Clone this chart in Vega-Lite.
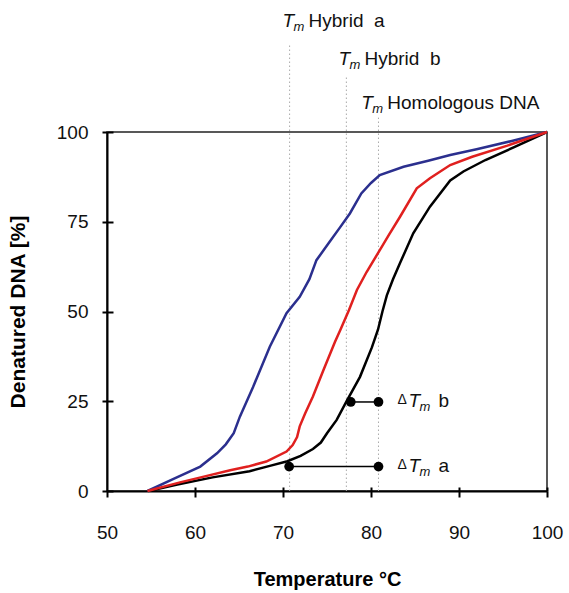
{
  "$schema": "https://vega.github.io/schema/vega-lite/v6.json",
  "autosize": {"type": "none"},
  "padding": {"left": 107, "top": 132, "right": 22, "bottom": 102},
  "width": 440,
  "height": 359,
  "background": "white",
  "config": {
    "view": {"stroke": "#222", "strokeWidth": 1.5},
    "font": "Liberation Sans",
    "axis": {"grid": false, "domainColor": "#000", "domainWidth": 2, "tickColor": "#000", "tickWidth": 2, "labelColor": "#111", "titleColor": "#000", "labelFont": "Liberation Sans", "titleFont": "Liberation Sans", "labelFlush": false}
  },
  "datasets": {
    "curves": [
      {"series": "Homologous", "temp": 54.7, "pct": 0}, {"series": "Homologous", "temp": 58, "pct": 1.8}, {"series": "Homologous", "temp": 62, "pct": 3.8}, {"series": "Homologous", "temp": 66.2, "pct": 5.5}, {"series": "Homologous", "temp": 68.5, "pct": 7}, {"series": "Homologous", "temp": 70.5, "pct": 8.3}, {"series": "Homologous", "temp": 72, "pct": 9.8}, {"series": "Homologous", "temp": 73.4, "pct": 11.7}, {"series": "Homologous", "temp": 74.3, "pct": 13.5}, {"series": "Homologous", "temp": 75, "pct": 16.1}, {"series": "Homologous", "temp": 76.1, "pct": 19.8}, {"series": "Homologous", "temp": 77.2, "pct": 24.9}, {"series": "Homologous", "temp": 78.75, "pct": 31.8}, {"series": "Homologous", "temp": 80.1, "pct": 40}, {"series": "Homologous", "temp": 80.8, "pct": 45}, {"series": "Homologous", "temp": 81.3, "pct": 50}, {"series": "Homologous", "temp": 81.8, "pct": 54.5}, {"series": "Homologous", "temp": 82.5, "pct": 59}, {"series": "Homologous", "temp": 83.3, "pct": 63.5}, {"series": "Homologous", "temp": 84.8, "pct": 71.8}, {"series": "Homologous", "temp": 86.7, "pct": 79.2}, {"series": "Homologous", "temp": 89, "pct": 86.5}, {"series": "Homologous", "temp": 90.5, "pct": 89}, {"series": "Homologous", "temp": 93, "pct": 92.2}, {"series": "Homologous", "temp": 96.4, "pct": 95.9}, {"series": "Homologous", "temp": 100, "pct": 100},
      {"series": "Hybrid a", "temp": 54.6, "pct": 0}, {"series": "Hybrid a", "temp": 57.5, "pct": 3.3}, {"series": "Hybrid a", "temp": 60.6, "pct": 6.8}, {"series": "Hybrid a", "temp": 62.5, "pct": 10.5}, {"series": "Hybrid a", "temp": 63.5, "pct": 13}, {"series": "Hybrid a", "temp": 64.4, "pct": 16.1}, {"series": "Hybrid a", "temp": 65.1, "pct": 20.7}, {"series": "Hybrid a", "temp": 66.6, "pct": 29}, {"series": "Hybrid a", "temp": 68.5, "pct": 40.2}, {"series": "Hybrid a", "temp": 70.4, "pct": 49.5}, {"series": "Hybrid a", "temp": 71.9, "pct": 54.1}, {"series": "Hybrid a", "temp": 73, "pct": 59}, {"series": "Hybrid a", "temp": 73.8, "pct": 64.3}, {"series": "Hybrid a", "temp": 75.3, "pct": 69.4}, {"series": "Hybrid a", "temp": 76.5, "pct": 73.5}, {"series": "Hybrid a", "temp": 77.6, "pct": 77.3}, {"series": "Hybrid a", "temp": 78.9, "pct": 82.9}, {"series": "Hybrid a", "temp": 80, "pct": 85.8}, {"series": "Hybrid a", "temp": 81, "pct": 88}, {"series": "Hybrid a", "temp": 83.7, "pct": 90.3}, {"series": "Hybrid a", "temp": 86.5, "pct": 92}, {"series": "Hybrid a", "temp": 89, "pct": 93.6}, {"series": "Hybrid a", "temp": 92, "pct": 95.2}, {"series": "Hybrid a", "temp": 96, "pct": 97.5}, {"series": "Hybrid a", "temp": 100, "pct": 100},
      {"series": "Hybrid b", "temp": 54.6, "pct": 0}, {"series": "Hybrid b", "temp": 58.3, "pct": 2.4}, {"series": "Hybrid b", "temp": 61, "pct": 4}, {"series": "Hybrid b", "temp": 64, "pct": 5.8}, {"series": "Hybrid b", "temp": 66, "pct": 6.8}, {"series": "Hybrid b", "temp": 68.1, "pct": 8.2}, {"series": "Hybrid b", "temp": 70.4, "pct": 11}, {"series": "Hybrid b", "temp": 71.1, "pct": 12.8}, {"series": "Hybrid b", "temp": 71.6, "pct": 15}, {"series": "Hybrid b", "temp": 71.9, "pct": 18}, {"series": "Hybrid b", "temp": 72.5, "pct": 21.5}, {"series": "Hybrid b", "temp": 73.4, "pct": 26.3}, {"series": "Hybrid b", "temp": 74.6, "pct": 33.7}, {"series": "Hybrid b", "temp": 75.9, "pct": 41.5}, {"series": "Hybrid b", "temp": 76.5, "pct": 44.8}, {"series": "Hybrid b", "temp": 77.5, "pct": 50.4}, {"series": "Hybrid b", "temp": 78.4, "pct": 56}, {"series": "Hybrid b", "temp": 79.5, "pct": 61}, {"series": "Hybrid b", "temp": 81, "pct": 67.1}, {"series": "Hybrid b", "temp": 82, "pct": 71.2}, {"series": "Hybrid b", "temp": 83.3, "pct": 76.4}, {"series": "Hybrid b", "temp": 85.2, "pct": 84.3}, {"series": "Hybrid b", "temp": 86.7, "pct": 87.1}, {"series": "Hybrid b", "temp": 89, "pct": 90.8}, {"series": "Hybrid b", "temp": 91.5, "pct": 93.1}, {"series": "Hybrid b", "temp": 95.5, "pct": 96.2}, {"series": "Hybrid b", "temp": 100, "pct": 100}
    ],
    "tmLines": [
      {"name": "Hybrid a", "tm": 70.75, "base": 0, "top": 124.5},
      {"name": "Hybrid b", "tm": 77.2, "base": 0, "top": 115.5},
      {"name": "Homologous DNA", "tm": 80.85, "base": 0, "top": 104}
    ],
    "tmLabels": [
      {"rest": "Hybrid\u00a0 a", "x": 69.95, "y": 131},
      {"rest": "Hybrid\u00a0 b", "x": 76.3, "y": 120.3},
      {"rest": "Homologous DNA", "x": 78.9, "y": 108.1}
    ],
    "deltas": [
      {"name": "b", "from": 77.7, "to": 80.85, "pct": 24.8},
      {"name": "a", "from": 70.7, "to": 80.85, "pct": 6.8}
    ],
    "deltaDots": [
      {"name": "b", "temp": 77.7, "pct": 24.8}, {"name": "b", "temp": 80.85, "pct": 24.8},
      {"name": "a", "temp": 70.7, "pct": 6.8}, {"name": "a", "temp": 80.85, "pct": 6.8}
    ],
    "deltaLabels": [
      {"name": "b", "x": 83.0, "y": 25.2},
      {"name": "a", "x": 83.0, "y": 7.0}
    ]
  },
  "resolve": {"axis": {"x": "independent", "y": "independent"}},
  "layer": [
    {
      "data": {"name": "tmLines"},
      "mark": {"type": "rule", "color": "#aaa", "strokeWidth": 1, "strokeDash": [1.5, 2.5]},
      "encoding": {
        "x": {"field": "tm", "type": "quantitative", "axis": null},
        "y": {"field": "base", "type": "quantitative", "axis": null},
        "y2": {"field": "top"}
      }
    },
    {
      "data": {"name": "curves"},
      "mark": {"type": "line", "strokeWidth": 2.5, "clip": false},
      "encoding": {
        "x": {"field": "temp", "type": "quantitative", "scale": {"domain": [50, 100], "nice": false, "zero": false},
          "axis": {"orient": "bottom", "values": [50, 60, 70, 80, 90, 100], "tickSize": 6, "labelFontSize": 19, "labelPadding": 26, "title": "Temperature °C", "titleFontSize": 20, "titleFontWeight": "bold", "titlePadding": 27}},
        "y": {"field": "pct", "type": "quantitative", "scale": {"domain": [0, 100], "nice": false},
          "axis": {"orient": "left", "values": [0, 25, 50, 75, 100], "tickSize": 5, "labelFontSize": 19, "labelPadding": 14, "title": "Denatured DNA [%]", "titleFontSize": 21, "titleFontWeight": "bold", "titlePadding": 28}},
        "color": {"field": "series", "type": "nominal", "scale": {"domain": ["Homologous", "Hybrid a", "Hybrid b"], "range": ["#000000", "#2b2f8e", "#e0201f"]}, "legend": null},
        "order": {"field": "temp", "type": "quantitative"}
      }
    },
    {
      "data": {"name": "curves"},
      "mark": {"type": "point", "opacity": 0},
      "encoding": {
        "x": {"field": "temp", "type": "quantitative", "axis": {"orient": "bottom", "values": [60, 70, 80, 90, 100], "tickSize": -4, "labels": false, "domain": false, "title": null}},
        "y": {"field": "pct", "type": "quantitative", "axis": {"orient": "left", "values": [0, 25, 50, 75, 100], "tickSize": -6, "labels": false, "domain": false, "title": null}}
      }
    },
    {
      "data": {"name": "deltas"},
      "mark": {"type": "rule", "color": "#000", "strokeWidth": 1.5},
      "encoding": {
        "x": {"field": "from", "type": "quantitative", "axis": null},
        "x2": {"field": "to"},
        "y": {"field": "pct", "type": "quantitative", "axis": null}
      }
    },
    {
      "data": {"name": "deltaDots"},
      "mark": {"type": "circle", "color": "#000", "size": 95, "opacity": 1},
      "encoding": {
        "x": {"field": "temp", "type": "quantitative", "axis": null},
        "y": {"field": "pct", "type": "quantitative", "axis": null}
      }
    },
    {
      "data": {"name": "tmLabels"},
      "mark": {"type": "text", "text": "T", "fontStyle": "italic", "fontSize": 19, "align": "left", "baseline": "middle", "color": "#111"},
      "encoding": {
        "x": {"field": "x", "type": "quantitative", "axis": null},
        "y": {"field": "y", "type": "quantitative", "axis": null}
      }
    },
    {
      "data": {"name": "tmLabels"},
      "mark": {"type": "text", "text": "m", "fontStyle": "italic", "fontSize": 13, "align": "left", "baseline": "middle", "dx": 11, "dy": 6, "color": "#111"},
      "encoding": {
        "x": {"field": "x", "type": "quantitative", "axis": null},
        "y": {"field": "y", "type": "quantitative", "axis": null}
      }
    },
    {
      "data": {"name": "tmLabels"},
      "mark": {"type": "text", "fontSize": 19, "align": "left", "baseline": "middle", "dx": 26, "color": "#111"},
      "encoding": {
        "x": {"field": "x", "type": "quantitative", "axis": null},
        "y": {"field": "y", "type": "quantitative", "axis": null},
        "text": {"field": "rest"}
      }
    },
    {
      "data": {"name": "deltaLabels"},
      "mark": {"type": "text", "text": "Δ", "fontSize": 14, "align": "left", "baseline": "middle", "dy": -1, "color": "#111"},
      "encoding": {
        "x": {"field": "x", "type": "quantitative", "axis": null},
        "y": {"field": "y", "type": "quantitative", "axis": null}
      }
    },
    {
      "data": {"name": "deltaLabels"},
      "mark": {"type": "text", "text": "T", "fontStyle": "italic", "fontSize": 19, "align": "left", "baseline": "middle", "dx": 11, "color": "#111"},
      "encoding": {
        "x": {"field": "x", "type": "quantitative", "axis": null},
        "y": {"field": "y", "type": "quantitative", "axis": null}
      }
    },
    {
      "data": {"name": "deltaLabels"},
      "mark": {"type": "text", "text": "m", "fontStyle": "italic", "fontSize": 13, "align": "left", "baseline": "middle", "dx": 22, "dy": 6, "color": "#111"},
      "encoding": {
        "x": {"field": "x", "type": "quantitative", "axis": null},
        "y": {"field": "y", "type": "quantitative", "axis": null}
      }
    },
    {
      "data": {"name": "deltaLabels"},
      "mark": {"type": "text", "fontSize": 19, "align": "left", "baseline": "middle", "dx": 41, "color": "#111"},
      "encoding": {
        "x": {"field": "x", "type": "quantitative", "axis": null},
        "y": {"field": "y", "type": "quantitative", "axis": null},
        "text": {"field": "name"}
      }
    }
  ]
}
